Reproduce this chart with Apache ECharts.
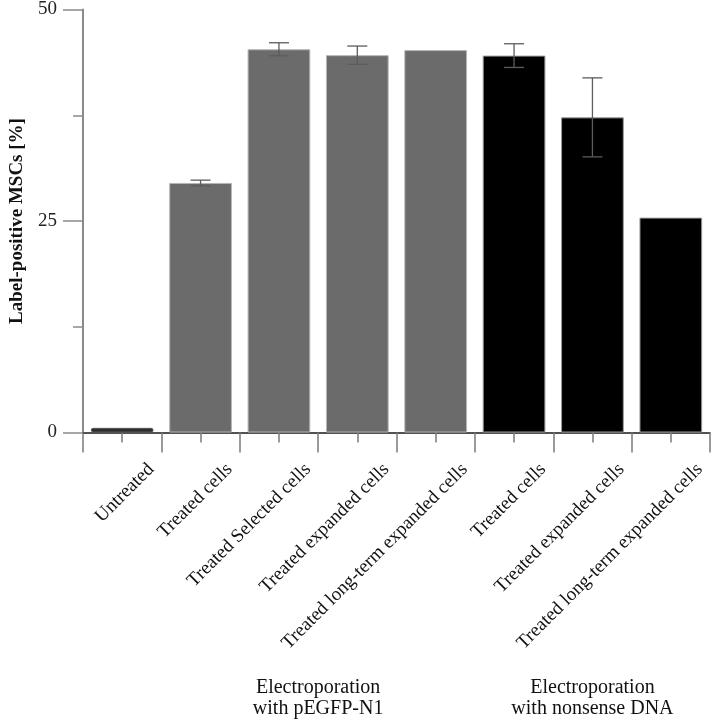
<!DOCTYPE html>
<html>
<head>
<meta charset="utf-8">
<script src="https://cdn.jsdelivr.net/npm/echarts@6/dist/echarts.min.js"></script>
<style>
html,body{margin:0;padding:0;background:#fff;}
#chart{width:714px;height:725px;}
</style>
</head>
<body>
<div id="chart"></div>
<script>
var categories = ['Untreated', 'Treated cells', 'Treated Selected cells', 'Treated expanded cells',
  'Treated long-term expanded cells', 'Treated cells', 'Treated expanded cells', 'Treated long-term expanded cells'];
var values = [0.55, 29.5, 45.3, 44.6, 45.2, 44.55, 37.25, 25.4];
var errors = [null, 0.33, 0.77, 1.08, null, 1.4, 4.67, null];
var groupOf = ['control', 'pEGFP', 'pEGFP', 'pEGFP', 'pEGFP', 'nonsense', 'nonsense', 'nonsense'];
var groupNames = ['Electroporation\nwith pEGFP-N1', 'Electroporation\nwith nonsense DNA'];
var groupRanges = [[1, 4], [5, 7]];
var yTicks = [0, 25, 50];
var yAxisTitle = 'Label-positive MSCs [%]';

var styleByGroup = {
  control: {color: '#2e2e2e', borderColor: '#555', borderWidth: 1, borderRadius: 3},
  pEGFP: {color: '#6b6b6b', borderColor: '#b5b5b5', borderWidth: 1},
  nonsense: {color: '#000000', borderColor: '#9a9a9a', borderWidth: 1}
};
var FONT = '"Liberation Serif", "Times New Roman", serif';

var chart = echarts.init(document.getElementById('chart'), null, {renderer: 'canvas'});

var barData = values.map(function (v, i) {
  return {value: v, itemStyle: styleByGroup[groupOf[i]]};
});
var errData = [];
values.forEach(function (v, i) {
  if (errors[i] != null) errData.push([i, v - errors[i], v + errors[i]]);
});

var option = {
  backgroundColor: '#ffffff',
  animation: false,
  grid: {left: 81, right: 4, top: 9.5, bottom: 292.5, containLabel: false},
  xAxis: [{
    type: 'category',
    data: categories,
    position: 'bottom',
    axisLine: {show: true, lineStyle: {color: '#1a1a1a', width: 1.5}},
    axisTick: {show: true, interval: 0, alignWithLabel: false, length: 20, lineStyle: {color: '#7a7a7a', width: 1.5}},
    axisLabel: {show: false, interval: 0},
    splitLine: {show: false}
  }, {
    type: 'category',
    data: categories,
    position: 'bottom',
    axisLine: {show: false},
    axisTick: {show: true, interval: 0, alignWithLabel: true, length: 10, lineStyle: {color: '#7a7a7a', width: 1.5}},
    axisLabel: {show: false, interval: 0},
    splitLine: {show: false}
  }],
  yAxis: {
    type: 'value',
    min: yTicks[0],
    max: yTicks[yTicks.length - 1],
    interval: yTicks[1] - yTicks[0],
    name: yAxisTitle,
    nameLocation: 'middle',
    nameGap: 56,
    nameTextStyle: {fontFamily: FONT, fontSize: 19, fontWeight: 'bold', color: '#111'},
    axisLine: {show: true, lineStyle: {color: '#8a8a8a', width: 2}},
    axisTick: {show: true, length: 20, lineStyle: {color: '#8a8a8a', width: 1.5}},
    minorTick: {show: true, splitNumber: 2, length: 10, lineStyle: {color: '#8a8a8a', width: 1.5}},
    axisLabel: {fontFamily: FONT, fontSize: 19, color: '#222', margin: 26},
    splitLine: {show: false},
    minorSplitLine: {show: false}
  },
  series: [{
    type: 'bar',
    data: barData,
    barCategoryGap: '20%',
    xAxisIndex: 0,
    z: 2
  }, {
    type: 'custom',
    xAxisIndex: 0,
    data: errData,
    z: 5,
    renderItem: function (params, api) {
      var x = api.value(0);
      var lo = api.coord([x, api.value(1)]);
      var hi = api.coord([x, api.value(2)]);
      var cap = 10;
      var st = {stroke: '#5c5c5c', lineWidth: 1.3};
      return {type: 'group', children: [
        {type: 'line', shape: {x1: lo[0], y1: lo[1], x2: hi[0], y2: hi[1]}, style: st},
        {type: 'line', shape: {x1: hi[0] - cap, y1: hi[1], x2: hi[0] + cap, y2: hi[1]}, style: st},
        {type: 'line', shape: {x1: lo[0] - cap, y1: lo[1], x2: lo[0] + cap, y2: lo[1]}, style: st}
      ]};
    }
  }, {
    type: 'custom',
    xAxisIndex: 0,
    clip: false,
    silent: true,
    data: categories.map(function (c, i) { return [i, 0]; }),
    renderItem: function (params, api) {
      var p = api.coord([api.value(0), 0]);
      return {
        type: 'text',
        x: p[0] + 29,
        y: p[1] + 34,
        rotation: Math.PI / 4,
        style: {
          text: categories[params.dataIndex],
          fontFamily: FONT,
          fontSize: 19,
          fill: '#111',
          align: 'right',
          verticalAlign: 'middle'
        }
      };
    }
  }, {
    type: 'custom',
    xAxisIndex: 0,
    clip: false,
    silent: true,
    data: groupRanges.map(function (r) { return [r[0], r[1], 0]; }),
    renderItem: function (params, api) {
      var a = api.coord([api.value(0), 0]);
      var b = api.coord([api.value(1), 0]);
      return {
        type: 'text',
        x: (a[0] + b[0]) / 2,
        y: a[1] + 245,
        style: {
          text: groupNames[params.dataIndex],
          fontFamily: FONT,
          fontSize: 20,
          lineHeight: 21,
          fill: '#111',
          align: 'center',
          verticalAlign: 'top'
        }
      };
    }
  }]
};
chart.setOption(option);
</script>
</body>
</html>
